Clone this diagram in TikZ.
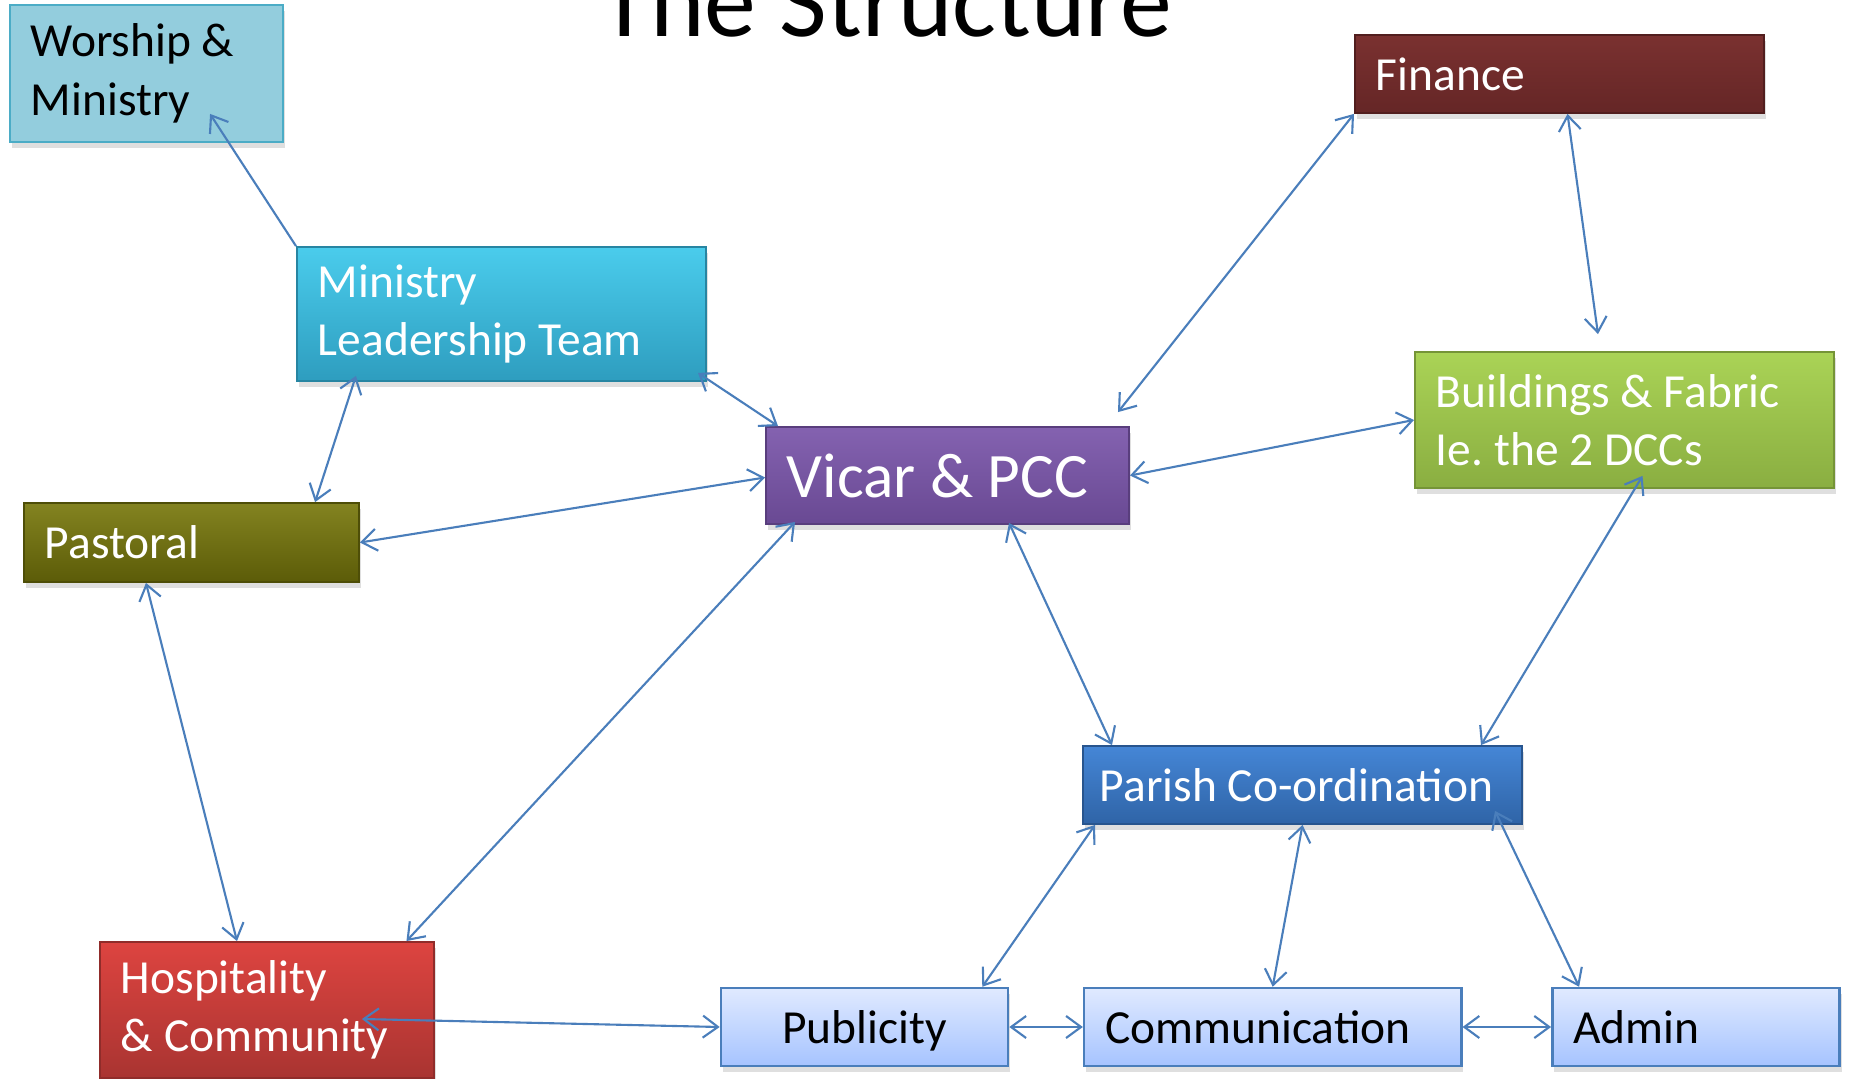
\documentclass[tikz,border=0pt]{standalone}
\usepackage{fontspec}
\setmainfont{Carlito}
\usetikzlibrary{positioning,arrows.meta,shadows}

\definecolor{linkblue}{HTML}{4A7EBB}
\definecolor{worshipfill}{HTML}{93CDDD}
\definecolor{worshipdraw}{HTML}{4BACC6}
\definecolor{lightA}{HTML}{E0EAFF}
\definecolor{lightB}{HTML}{A6C3FF}
\definecolor{HTMLfin}{HTML}{7A3130}
\definecolor{HTMLfinb}{HTML}{652626}
\definecolor{HTMLmlt}{HTML}{4ACCEC}
\definecolor{HTMLmltb}{HTML}{2E9DBF}
\definecolor{HTMLbld}{HTML}{AAD356}
\definecolor{HTMLbldb}{HTML}{8AAE41}
\definecolor{HTMLvic}{HTML}{8462B0}
\definecolor{HTMLvicb}{HTML}{694993}
\definecolor{HTMLpas}{HTML}{838320}
\definecolor{HTMLpasb}{HTML}{5C5C08}
\definecolor{HTMLhos}{HTML}{DD4440}
\definecolor{HTMLhosb}{HTML}{A93431}
\definecolor{HTMLpar}{HTML}{4586D6}
\definecolor{HTMLparb}{HTML}{2F64A7}

\begin{document}
\begin{tikzpicture} [
					x=0.01cm,y=-0.01cm,
					box/.style={rectangle,inner xsep=0.21cm,inner ysep=0pt,align=flush left,
						font=\fontsize{13.5}{16.6}\selectfont\frenchspacing,text=white,line width=0.5pt,
						drop shadow={opacity=0.25,shadow xshift=0.02cm,shadow yshift=-0.06cm}},
					oneline/.style={text height=0.32cm,text depth=0pt},
					light/.style={box,oneline,draw=linkblue,line width=0.7pt,top color=lightA,bottom color=lightB,
						text=black,minimum height=0.78cm,text width=2.45cm},
					link/.style={<->,>={Straight Barb[length=1.5mm,width=2.2mm]},draw=linkblue,line width=0.6pt},
				]
				
				\fill[white] (0,0) rectangle (1851,1079);
				\useasboundingbox (0,0) rectangle (1851,1079);
				
				\node (title) [anchor=base,font=\fontsize{29.5}{36}\selectfont] at (886,37) {The Structure};
				
				\node[box,fill=worshipfill,draw=worshipdraw,text=black,text width=2.31cm,minimum height=1.37cm] (worship) at (146.5,73.5) {Worship \&\\Ministry};
				\node[box,oneline,top color=HTMLfin,bottom color=HTMLfinb,draw=HTMLfinb!80!black,text width=3.67cm,minimum height=0.78cm] (finance) at (1559.5,74) {Finance};
				\node[box,top color=HTMLmlt,bottom color=HTMLmltb,draw=HTMLmltb!85!black,text width=3.67cm,minimum height=1.34cm] (mlt) at (501.5,314) {Ministry\\Leadership Team};
				\node[box,top color=HTMLbld,bottom color=HTMLbldb,draw=HTMLbldb!85!black,text width=3.77cm,minimum height=1.36cm] (build) at (1624.5,420) {Buildings \& Fabric\\Ie. the 2 DCCs};
				\node[box,top color=HTMLvic,bottom color=HTMLvicb,draw=HTMLvicb!85!black,text width=3.21cm,minimum height=0.97cm,font=\fontsize{18}{22}\selectfont] (vicar) at (947.5,475.5) {Vicar \& PCC};
				\node[box,oneline,top color=HTMLpas,bottom color=HTMLpasb,draw=HTMLpasb!85!black,text width=2.93cm,minimum height=0.79cm] (pastoral) at (191.5,542.5) {Pastoral};
				\node[box,top color=HTMLhos,bottom color=HTMLhosb,draw=HTMLhosb!85!black,text width=2.92cm,minimum height=1.36cm] (hosp) at (267,1010) {Hospitality\\\& Community};
				\node[box,oneline,top color=HTMLpar,bottom color=HTMLparb,draw=HTMLparb!85!black,inner xsep=0.17cm,text width=4.05cm,minimum height=0.78cm] (parish) at (1302.5,785) {Parish Co-ordination};
				
				\node[light,align=center] (publicity) at (864.5,1027) {Publicity};
				\node[light,text width=3.35cm] (comm) [right=0.735cm of publicity] {Communication};
				\node[light] (admin) [right=0.885cm of comm] {Admin};
				
				\draw[link,->] (mlt.north west) to ([xshift=0.635cm,yshift=0.29cm]worship.south);
				\draw[link] ([xshift=-1.455cm,yshift=0.06cm]mlt.south) to ([xshift=1.235cm]pastoral.north);
				\draw[link] ([xshift=-0.09cm,yshift=0.09cm]mlt.south east) to ([xshift=0.13cm]vicar.north west);
				\draw[link] (pastoral.east) to ([yshift=-0.02cm]vicar.west);
				\draw[link] ([xshift=-0.455cm]pastoral.south) to ([xshift=-0.3cm]hosp.north);
				\draw[link] ([xshift=0.3cm,yshift=0.03cm]vicar.south west) to ([xshift=-0.285cm]hosp.north east);
				\draw[link] ([xshift=-0.12cm,yshift=0.14cm]vicar.north east) to (finance.south west);
				\draw[link] ([xshift=0.08cm]finance.south) to ([xshift=-0.265cm,yshift=0.17cm]build.north);
				\draw[link] (vicar.east) to (build.west);
				\draw[link] ([xshift=0.615cm,yshift=0.02cm]vicar.south) to ([xshift=0.3cm]parish.north west);
				\draw[link] ([xshift=0.18cm,yshift=0.13cm]build.south) to ([xshift=-0.42cm]parish.north east);
				\draw[link] ([xshift=0.13cm]parish.south west) to ([xshift=-0.27cm]publicity.north east);
				\draw[link] (parish.south) to (comm.north);
				\draw[link] ([xshift=-0.28cm,yshift=0.14cm]parish.south east) to ([xshift=0.28cm]admin.north west);
				\draw[link] (publicity.east) to (comm.west);
				\draw[link] (comm.east) to (admin.west);
				\draw[link] ([xshift=-0.73cm,yshift=-0.09cm]hosp.east) to (publicity.west);
				
			\end{tikzpicture}
\end{document}
